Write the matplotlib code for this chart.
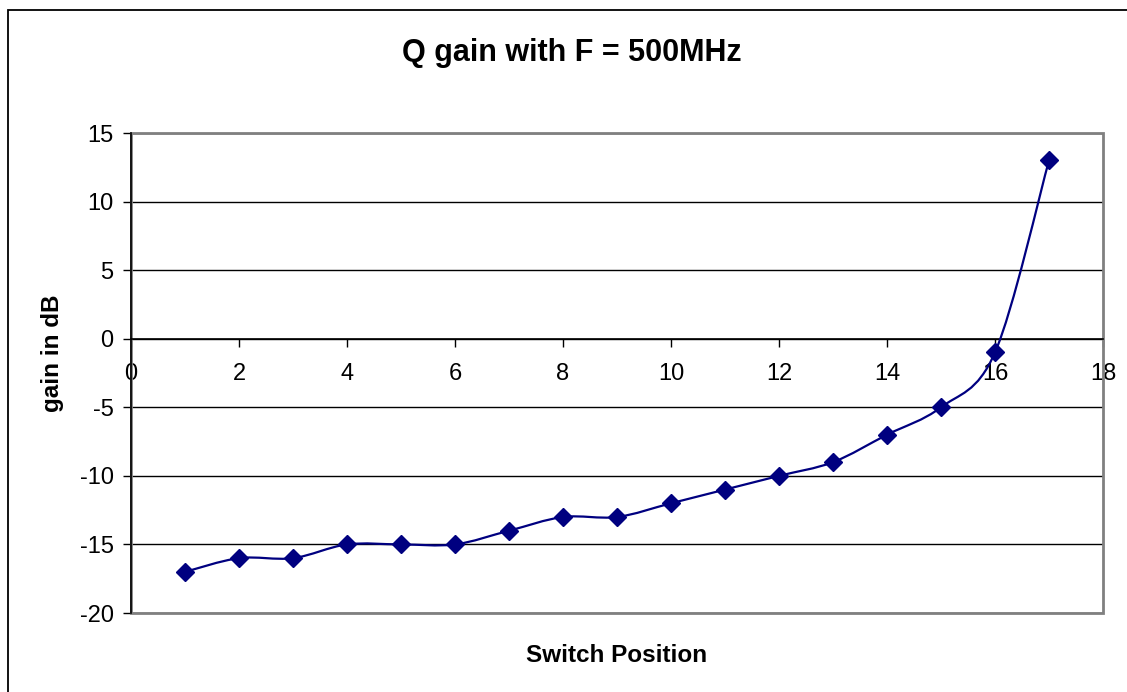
import numpy as np
import matplotlib
matplotlib.use("Agg")
import matplotlib.pyplot as plt
from matplotlib.path import Path
from matplotlib.patches import PathPatch, Rectangle

plt.rcParams['font.family'] = ['Liberation Sans', 'DejaVu Sans']
plt.rcParams['axes.unicode_minus'] = False

# switch position vs measured Q gain
switch_pos = [1, 2, 3, 4, 5, 6, 7, 8, 9, 10, 11, 12, 13, 14, 15, 16, 17]
gain_db = [-17, -16, -16, -15, -15, -15, -14, -13, -13, -12, -11, -10, -9, -7, -5, -1, 13]
x_ticks = [0, 2, 4, 6, 8, 10, 12, 14, 16, 18]
y_ticks = [-20, -15, -10, -5, 0, 5, 10, 15]

W, H = 1127, 692
fig = plt.figure(figsize=(W / 100, H / 100), dpi=100)
ax = fig.add_axes([131 / W, 1 - 613 / H, (1103 - 131) / W, (613 - 133) / H])

navy = '#000080'

# smoothed line (catmull-rom style bezier through the points)
pts = np.column_stack([switch_pos, gain_db]).astype(float)
n = len(pts)
verts = [pts[0]]
codes = [Path.MOVETO]
for i in range(n - 1):
    p0 = pts[i - 1] if i > 0 else pts[i]
    p3 = pts[i + 2] if i + 2 < n else pts[i + 1]
    c1 = pts[i] + (pts[i + 1] - p0) / 6
    c2 = pts[i + 1] - (p3 - pts[i]) / 6
    verts += [c1, c2, pts[i + 1]]
    codes += [Path.CURVE4] * 3
ax.add_patch(PathPatch(Path(verts, codes), facecolor='none', edgecolor=navy, lw=1.6, zorder=4))
ax.plot(switch_pos, gain_db, linestyle='none', marker='D', color=navy, markersize=9.5, zorder=5)

ax.set_xlim(0, 18)
ax.set_ylim(-20, 15)
ax.set_xticks(x_ticks)
ax.set_yticks(y_ticks)

ax.grid(axis='y', color='black', lw=1.0, zorder=1)
ax.set_axisbelow(True)

# grey plot-area frame
for s in ['top', 'right']:
    ax.spines[s].set_visible(False)
ax.add_patch(Rectangle((0, 0), 1, 1, transform=ax.transAxes, fill=False,
                       edgecolor='#808080', lw=2.0, zorder=2, clip_on=False))
ax.spines['left'].set_color('black')
ax.spines['left'].set_linewidth(1.2)
ax.spines['left'].set_zorder(3)
ax.spines['bottom'].set_position(('data', 0))
ax.spines['bottom'].set_color('black')
ax.spines['bottom'].set_linewidth(1.2)
ax.spines['bottom'].set_zorder(3)

ax.tick_params(axis='both', direction='out', length=5.5, width=1, color='black',
               labelsize=17)
ax.tick_params(axis='y', pad=7)
ax.tick_params(axis='x', pad=12)

fig.text(572 / W, 1 - 53 / H, 'Q gain with F = 500MHz', ha='center', va='center',
         fontsize=22, fontweight='bold')
fig.text(617 / W, 1 - 655 / H, 'Switch Position', ha='center', va='center',
         fontsize=17.5, fontweight='bold')
fig.text(53 / W, 1 - 353 / H, 'gain in dB', ha='center', va='center',
         rotation=90, fontsize=17.5, fontweight='bold')

# outer chart border
fig.patches.append(Rectangle((8 / W, -0.1), 1.2, 1 - 10 / H + 0.1, transform=fig.transFigure,
                             fill=False, edgecolor='black', lw=1.3))

fig.savefig('out.png', dpi=100)
